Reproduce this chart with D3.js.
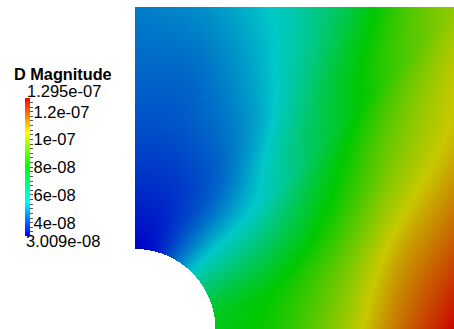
<!DOCTYPE html>
<html>
<head>
<meta charset="utf-8">
<script src="https://cdn.jsdelivr.net/npm/d3@7"></script>
<style>
  html, body { margin: 0; padding: 0; background: #fff; overflow: hidden; }
  svg { display: block; }
</style>
</head>
<body>
<script>
// Displacement magnitude on a quarter plate with a circular hole.
// Nodal values on a structured mesh: rays from the hole centre (angle in degrees)
// and the fraction of the way from the hole edge (0) to the outer plate edge (1).
const thetaDeg = [0, 15, 30, 45, 60, 75, 90];
const radialFrac = [0, 0.25, 0.5, 0.75, 1];
const magnitude = [
  [7.7e-8, 8.3e-8, 9.7e-8, 1.15e-7, 1.295e-7],
  [7.4e-8, 8.0e-8, 9.2e-8, 1.085e-7, 1.19e-7],
  [6.6e-8, 7.0e-8, 8.2e-8, 9.75e-8, 1.075e-7],
  [5.5e-8, 5.6e-8, 7.1e-8, 8.6e-8, 9.85e-8],
  [4.3e-8, 4.2e-8, 4.85e-8, 5.7e-8, 6.4e-8],
  [3.3e-8, 3.65e-8, 4.1e-8, 4.45e-8, 4.95e-8],
  [3.009e-8, 3.54e-8, 3.96e-8, 4.28e-8, 4.54e-8]
];
const tickValues = [4e-8, 6e-8, 8e-8, 1e-7, 1.2e-7];
const legendTitle = "D Magnitude";
const plateSize = 4;
const holeRadius = 1;

const W = 454, H = 329;
const FONT = "'Liberation Sans', Arial, sans-serif";

const svg = d3.select("body").append("svg")
  .attr("width", W).attr("height", H);

// plate coordinates -> screen
const x = d3.scaleLinear().domain([0, plateSize]).range([135, 457]);
const y = d3.scaleLinear().domain([0, plateSize]).range([329.5, 7.5]);

const [vmin, vmax] = d3.extent(magnitude.flat());
const norm = d3.scaleLinear().domain([vmin, vmax]).range([0, 1]).clamp(true);
// blue -> cyan -> green -> yellow -> red (HSV hue sweep)
const rainbow = t => d3.rgb(d3.hsl(240 * (1 - t), 1, 0.5));
const shade = 0.784;   // surface lighting

// mesh parameter lookups
const uOf = d3.scaleLinear().domain(thetaDeg).range(d3.range(thetaDeg.length));
const vOf = d3.scaleLinear().domain(radialFrac).range(d3.range(radialFrac.length));

function catmull(p0, p1, p2, p3, t) {
  return 0.5 * (2 * p1 + (-p0 + p2) * t + (2 * p0 - 5 * p1 + 4 * p2 - p3) * t * t +
    (-p0 + 3 * p1 - 3 * p2 + p3) * t * t * t);
}
function nodeVal(i, j) {
  const nu = thetaDeg.length, nv = radialFrac.length;
  if (i < 0) return 2 * nodeVal(0, j) - nodeVal(1, j);
  if (i > nu - 1) return 2 * nodeVal(nu - 1, j) - nodeVal(nu - 2, j);
  if (j < 0) return 2 * nodeVal(i, 0) - nodeVal(i, 1);
  if (j > nv - 1) return 2 * nodeVal(i, nv - 1) - nodeVal(i, nv - 2);
  return magnitude[i][j];
}
function sampleAt(u, v) {
  const iu = Math.min(Math.floor(u), thetaDeg.length - 2);
  const iv = Math.min(Math.floor(v), radialFrac.length - 2);
  const fu = u - iu, fv = v - iv;
  const rows = [];
  for (let a = -1; a <= 2; a++) {
    rows.push(catmull(nodeVal(iu + a, iv - 1), nodeVal(iu + a, iv),
      nodeVal(iu + a, iv + 1), nodeVal(iu + a, iv + 2), fv));
  }
  return catmull(rows[0], rows[1], rows[2], rows[3], fu);
}

// rasterise the field
const canvas = document.createElement("canvas");
canvas.width = W; canvas.height = H;
const ctx = canvas.getContext("2d");
const img = ctx.createImageData(W, H);
for (let py = 0; py < H; py++) {
  for (let px = 0; px < W; px++) {
    const cx = x.invert(px + 0.5), cy = y.invert(py + 0.5);
    if (cx < 0 || cy < 0 || cx > plateSize || cy > plateSize) continue;
    const r = Math.hypot(cx, cy);
    if (r < holeRadius) continue;
    const th = Math.atan2(cy, cx);
    const thd = th * 180 / Math.PI;
    const rOut = thd <= 45 ? plateSize / Math.cos(th) : plateSize / Math.sin(th);
    const s = Math.max(0, Math.min(1, (r - holeRadius) / (rOut - holeRadius)));
    const val = sampleAt(uOf(thd), vOf(s));
    const c = rainbow(norm(val));
    const k = (py * W + px) * 4;
    img.data[k] = c.r * shade;
    img.data[k + 1] = c.g * shade;
    img.data[k + 2] = c.b * shade;
    img.data[k + 3] = 255;
  }
}
ctx.putImageData(img, 0, 0);
svg.append("image")
  .attr("x", 0).attr("y", 0).attr("width", W).attr("height", H)
  .attr("href", canvas.toDataURL());

// ---- scalar bar ----
const bar = d3.scaleLinear().domain([vmin, vmax]).range([236, 98]);
const barX = 25, barW = 5;

const grad = svg.append("defs").append("linearGradient")
  .attr("id", "bar-grad").attr("x1", 0).attr("y1", 1).attr("x2", 0).attr("y2", 0);
d3.range(0, 1.0001, 0.05).forEach(t => {
  grad.append("stop").attr("offset", t).attr("stop-color", rainbow(t).formatHex());
});
svg.append("rect")
  .attr("x", barX).attr("y", bar(vmax))
  .attr("width", barW).attr("height", bar(vmin) - bar(vmax))
  .attr("fill", "url(#bar-grad)");

const minorStep = 2e-8 / 6;
const minorTicks = d3.range(Math.ceil(vmin / minorStep), Math.floor(vmax / minorStep) + 1)
  .map(k => k * minorStep);
svg.append("g").selectAll("line").data(minorTicks).join("line")
  .attr("x1", barX + barW).attr("x2", barX + barW + 3)
  .attr("y1", d => Math.round(bar(d)) + 0.5).attr("y2", d => Math.round(bar(d)) + 0.5)
  .attr("stroke", "#555").attr("stroke-width", 1);

const fmt = (v, p) => (p === undefined ? v.toExponential() : v.toExponential(p))
  .replace(/e([+-])(\d)$/, "e$10$2");

svg.append("g").selectAll("text").data(tickValues).join("text")
  .attr("x", barX + barW + 3.5).attr("y", d => bar(d) + 6.5)
  .attr("font-family", FONT).attr("font-size", 16.5).attr("fill", "#000")
  .text(d => fmt(d));

svg.append("text").attr("x", 27).attr("y", 96.5)
  .attr("font-family", FONT).attr("font-size", 16.5).attr("fill", "#000")
  .text(fmt(vmax, 3));
svg.append("text").attr("x", 26).attr("y", 247)
  .attr("font-family", FONT).attr("font-size", 16.5).attr("fill", "#000")
  .text(fmt(vmin, 3));

svg.append("text").attr("x", 14).attr("y", 80)
  .attr("font-family", FONT).attr("font-size", 16.3).attr("font-weight", "bold").attr("fill", "#000")
  .text(legendTitle);
</script>
</body>
</html>
